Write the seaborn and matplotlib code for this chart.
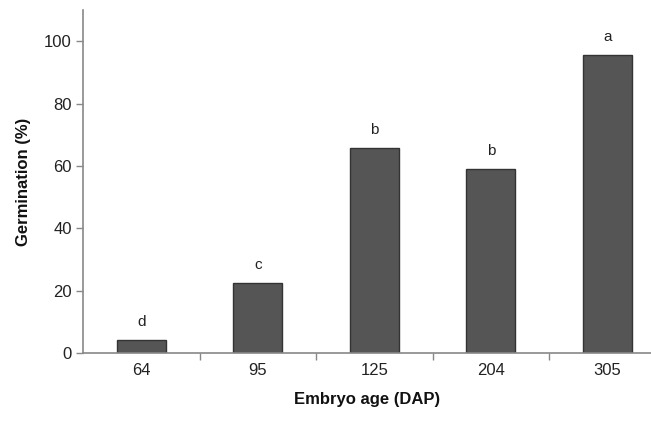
import matplotlib
matplotlib.use("Agg")
import matplotlib.pyplot as plt
import seaborn as sns
import pandas as pd
from matplotlib.ticker import FixedLocator

ages = ["64", "95", "125", "204", "305"]
germination = [4.2, 22.4, 65.8, 59.0, 95.5]
letters = ["d", "c", "b", "b", "a"]

sns.set_theme(style="white")
plt.rcParams["font.family"] = ["Liberation Sans", "DejaVu Sans"]

df = pd.DataFrame({"age": ages, "germ": germination})

fig = plt.figure(figsize=(6.51, 4.34), dpi=100)
ax = fig.add_axes([83/651, 1 - 353/434, 1 - 83/651, (353 - 10)/434])

sns.barplot(data=df, x="age", y="germ", color="#555555", width=0.42,
            edgecolor="#333333", linewidth=1.0, saturation=1, ax=ax)

for i, (v, l) in enumerate(zip(germination, letters)):
    ax.text(i, v + 3.5, l, ha="center", va="bottom", fontsize=11, color="#222222")

ax.set_ylim(0, 110)
ax.set_xlim(-0.5, -0.5 + 568/116.5)
ax.set_yticks([0, 20, 40, 60, 80, 100])
ax.tick_params(axis="y", labelsize=12, length=5, width=1, color="#888888",
               labelcolor="#222222", left=True, direction="out", pad=3)
ax.tick_params(axis="x", which="major", length=0, labelsize=12,
               labelcolor="#222222", pad=7)
ax.xaxis.set_minor_locator(FixedLocator([0.5, 1.5, 2.5, 3.5, 4.5]))
ax.tick_params(axis="x", which="minor", length=5, width=1, color="#888888",
               bottom=True, direction="out")

for s in ["top", "right"]:
    ax.spines[s].set_visible(False)
for s in ["left", "bottom"]:
    ax.spines[s].set_color("#888888")
    ax.spines[s].set_linewidth(1.2)

ax.set_xlabel("Embryo age (DAP)", fontsize=12, fontweight="bold",
              color="#111111", labelpad=10.5)
ax.set_ylabel("Germination (%)", fontsize=12, fontweight="bold",
              color="#111111", labelpad=9.5)

fig.savefig("out.png", dpi=100)
